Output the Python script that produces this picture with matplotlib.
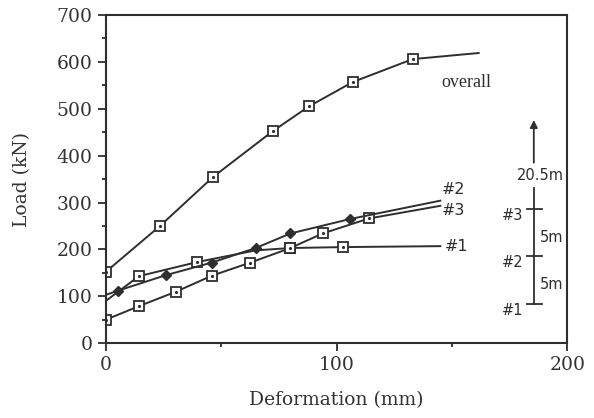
import matplotlib.pyplot as plt
from matplotlib.ticker import MultipleLocator

plt.rcParams["font.family"] = ["DejaVu Serif"]

# data (deformation mm, load kN)
overall_x = [0, 23.5, 46.6, 72.3, 88, 107, 133, 161.6]
overall_y = [152, 250, 355, 452, 505, 557, 606, 619]
overall_mk = [0, 1, 2, 3, 4, 5, 6]

s1_x = [0, 14.4, 39.6, 65, 80, 103, 145]
s1_y = [90, 143, 173, 198, 203, 205, 207]
s1_mk = [1, 2, 4, 5]

s2_x = [0, 5.3, 26, 46, 65, 80, 106, 145]
s2_y = [103, 112, 145, 172, 203, 234, 265, 304]
s2_mk = [1, 2, 3, 4, 5, 6]

s3_x = [0, 14.4, 30.5, 46, 62.7, 80, 94, 114, 145]
s3_y = [50, 79, 110, 144, 172, 203, 234, 266, 293]
s3_mk = [0, 1, 2, 3, 4, 5, 6, 7]

# gauge sketch on the right: level positions (in data units)
gauge_x = 185.5
gauge_levels = [84, 186, 287]
gauge_names = ["#1", "#2", "#3"]
gauge_gaps = ["5m", "5m"]

INK = "#2e2e2e"
SANS = "DejaVu Sans"

fig = plt.figure(figsize=(5.94, 4.18), dpi=100)
ax = fig.add_axes([0.178, 0.179, 0.777, 0.785])

sq = dict(marker="s", markersize=6.5, markerfacecolor="white",
          markeredgecolor=INK, markeredgewidth=1.3)
dot = dict(marker=".", markersize=2.5, color=INK, linestyle="none")

for xs, ys, mk in [(overall_x, overall_y, overall_mk),
                   (s1_x, s1_y, s1_mk),
                   (s3_x, s3_y, s3_mk)]:
    ax.plot(xs, ys, color=INK, lw=1.4, markevery=mk, **sq)
    ax.plot([xs[i] for i in mk], [ys[i] for i in mk], **dot)

ax.plot(s2_x, s2_y, color=INK, lw=1.4, marker="D", markersize=5.5,
        markerfacecolor=INK, markeredgecolor=INK, markevery=s2_mk)

# curve labels
ax.text(145.5, 557, "overall", fontsize=13, va="center", color=INK,
        family="Liberation Serif")
ax.text(145.5, 328, "#2", fontsize=11.5, va="center", color=INK, family=SANS)
ax.text(145.5, 282, "#3", fontsize=11.5, va="center", color=INK, family=SANS)
ax.text(147, 206, "#1", fontsize=11.5, va="center", color=INK, family=SANS)

# gauge sketch
ax.plot([gauge_x, gauge_x], [gauge_levels[0], 332], color=INK, lw=1.3)
for lv, nm in zip(gauge_levels, gauge_names):
    ax.plot([gauge_x - 2.8, gauge_x + 3.6], [lv, lv], color=INK, lw=1.3)
    ax.text(gauge_x - 4.5, lv - 14, nm, fontsize=10.5, ha="right", va="center",
            color=INK, family=SANS)
for i, gp in enumerate(gauge_gaps):
    mid = (gauge_levels[i] + gauge_levels[i + 1]) / 2
    ax.text(gauge_x + 2.5, mid - 10, gp, fontsize=10.5, ha="left", va="center",
            color=INK, family=SANS)
ax.text(gauge_x + 3, 357, "20.5m", fontsize=10.5, ha="center", va="center",
        color=INK, family=SANS)
ax.annotate("", xy=(gauge_x, 482), xytext=(gauge_x, 379),
            arrowprops=dict(arrowstyle="-|>", color=INK, lw=1.3, mutation_scale=11))

ax.set_xlim(0, 200)
ax.set_ylim(0, 700)
ax.xaxis.set_major_locator(MultipleLocator(100))
ax.xaxis.set_minor_locator(MultipleLocator(50))
ax.yaxis.set_major_locator(MultipleLocator(100))
ax.yaxis.set_minor_locator(MultipleLocator(50))
ax.tick_params(which="major", direction="out", length=6, width=1.3, colors=INK,
               labelsize=13.5, labelcolor="#333333")
ax.tick_params(which="minor", direction="out", length=3, width=1.3, colors=INK)
for sp in ax.spines.values():
    sp.set_color(INK)
    sp.set_linewidth(1.5)

ax.set_xlabel("Deformation (mm)", fontsize=13.5, color="#333333", labelpad=12)
ax.set_ylabel("Load (kN)", fontsize=13.5, color="#333333", labelpad=18)

fig.savefig("out.png", dpi=100)
